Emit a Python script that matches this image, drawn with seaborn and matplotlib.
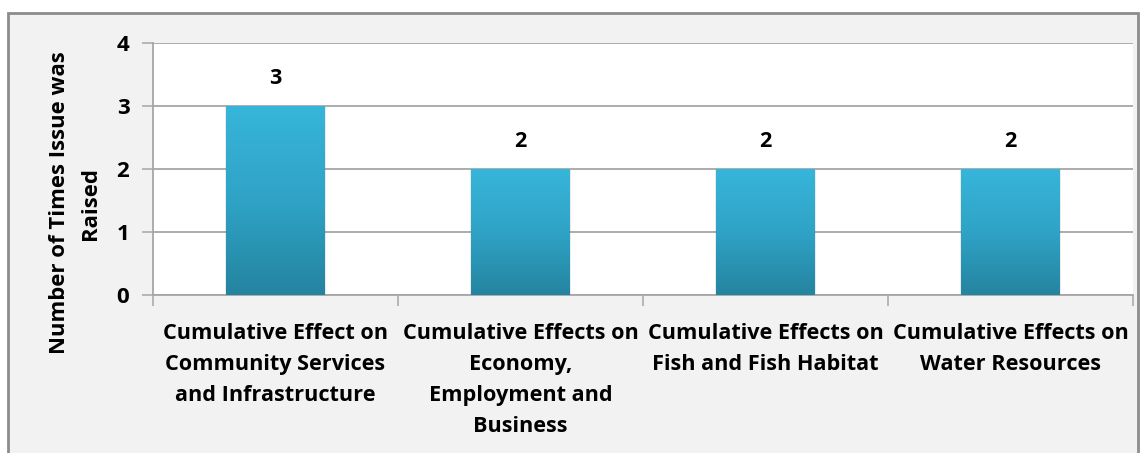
import numpy as np
import pandas as pd
import matplotlib
matplotlib.use("Agg")
import matplotlib.pyplot as plt
from matplotlib.patches import Rectangle
from matplotlib.colors import LinearSegmentedColormap
import seaborn as sns

categories = [
    "Cumulative Effect on\nCommunity Services\nand Infrastructure",
    "Cumulative Effects on\nEconomy,\nEmployment and\nBusiness",
    "Cumulative Effects on\nFish and Fish Habitat",
    "Cumulative Effects on\nWater Resources",
]
counts = [3, 2, 2, 2]
y_ticks = [0, 1, 2, 3, 4]
y_label = "Number of Times Issue was\nRaised"

sns.set_theme(style="white")
plt.rcParams["font.family"] = ["Open Sans", "DejaVu Sans"]
plt.rcParams["font.weight"] = "bold"

FS = 15.6
LS = 1.63

W, H = 1148, 453
fig = plt.figure(figsize=(W / 100, H / 100), dpi=100)
fig.patch.set_facecolor("white")

# chart frame: light grey panel with a grey outline
fig.patches.append(Rectangle((8 / W, -0.05), (1138 - 8) / W, 1.05 - 13 / H,
                             transform=fig.transFigure, facecolor="#F2F2F2",
                             edgecolor="#8C8C8C", linewidth=2.0, zorder=-10))

ax = fig.add_axes([153 / W, (H - 295) / H, (1133 - 153) / W, (295 - 43) / H])
ax.set_facecolor("white")

df = pd.DataFrame({"category": categories, "count": counts})
sns.barplot(data=df, x="category", y="count", ax=ax, width=0.404,
            color="#2E9FC0", saturation=1, zorder=3)

# vertical gradient fill clipped to each bar
cmap = LinearSegmentedColormap.from_list("bar", ["#2484A0", "#2FA3C6", "#37B5DA"])
grad = np.linspace(0, 1, 256).reshape(-1, 1)
for p in list(ax.patches):
    x0, y0 = p.get_x(), p.get_y()
    w, h = p.get_width(), p.get_height()
    im = ax.imshow(grad, cmap=cmap, origin="lower", aspect="auto",
                   extent=(x0, x0 + w, y0, y0 + h), zorder=3)
    im.set_clip_path(p)
    p.set_facecolor("none")
    p.set_edgecolor("none")
    # soft side shadow
    ax.add_patch(Rectangle((x0 - 0.006, y0), w + 0.012, h - 0.01,
                           facecolor="#000000", alpha=0.08, edgecolor="none",
                           zorder=2.5))
    ax.text(x0 + w / 2, h + 0.44, f"{h:.0f}", ha="center", va="center",
            fontsize=FS, fontweight="bold", color="black", zorder=4)
ax.set_xlim(-0.5, len(categories) - 0.5)
ax.set_ylim(0, 4)

ax.set_yticks(y_ticks)
ax.set_yticklabels([str(t) for t in y_ticks], fontsize=FS + 0.5,
                   fontweight="bold", color="black")
ax.yaxis.grid(True, color="#A6A6A6", linewidth=1.3, zorder=0)
ax.set_axisbelow(True)

ax.set_xticks(range(len(categories)))
ax.set_xticklabels(categories, fontsize=FS, fontweight="bold", color="black",
                   linespacing=LS, va="top")
ax.set_xticks(np.arange(-0.5, len(categories)), minor=True)
ax.tick_params(axis="x", which="major", length=0, pad=20)
ax.tick_params(axis="x", which="minor", length=8, width=1.1,
               color="#A6A6A6", direction="out", bottom=True)
ax.tick_params(axis="y", length=8, width=1.1, color="#A6A6A6",
               direction="out", left=True, pad=9)

for s in ("top", "right"):
    ax.spines[s].set_visible(False)
for s in ("left", "bottom"):
    ax.spines[s].set_color("#A6A6A6")
    ax.spines[s].set_linewidth(1.3)

ax.set_xlabel("")
ax.set_ylabel(y_label, fontsize=FS + 0.3, fontweight="bold", color="black",
              linespacing=LS)
ax.yaxis.label.set_va("center")
ax.yaxis.set_label_coords(-0.0796, 0.365)

fig.savefig("out.png", dpi=100, facecolor=fig.get_facecolor())
